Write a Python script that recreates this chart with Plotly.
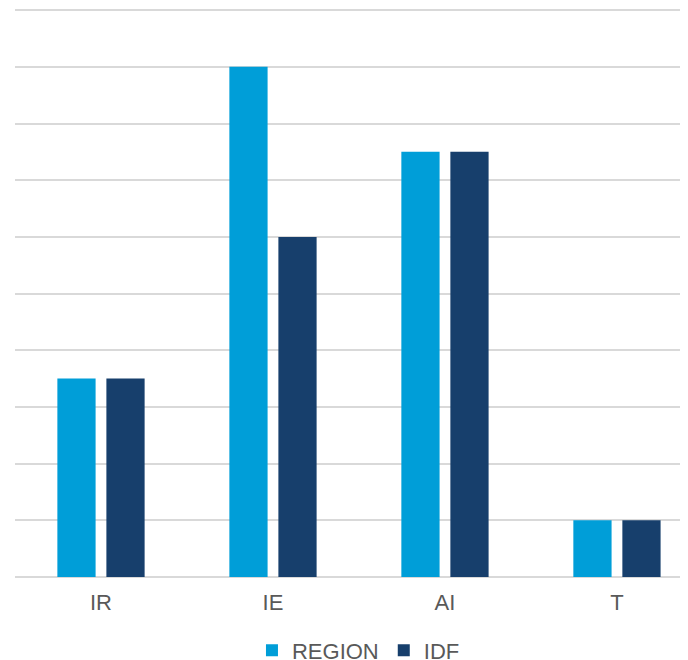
import plotly.graph_objects as go

categories = ["IR", "IE", "AI", "T"]
region_values = [3.5, 9, 7.5, 1]
idf_values = [3.5, 6, 7.5, 1]

fig = go.Figure()
fig.add_trace(go.Bar(name="REGION", x=categories, y=region_values, marker_color="#009ED8", marker_line_width=0))
fig.add_trace(go.Bar(name="IDF", x=categories, y=idf_values, marker_color="#173F6C", marker_line_width=0))

fig.update_layout(
    width=680, height=652,
    margin=dict(l=7, r=0, t=1, b=83, autoexpand=False),
    paper_bgcolor="white", plot_bgcolor="white",
    barmode="group", bargap=0.43, bargroupgap=0.22,
    font=dict(family="Liberation Sans, Arial, sans-serif", color="#595959", size=22),
    showlegend=True,
    legend=dict(orientation="h", xref="container", yref="container", x=0.5154, xanchor="center",
                y=0.0145, yanchor="middle", font=dict(size=22, color="#595959"),
                itemwidth=30, traceorder="normal"),
)
fig.update_xaxes(range=[-0.5, 3.413], showgrid=False, showline=False, ticks="", ticklabelstandoff=10,
                 tickfont=dict(size=22, color="#595959"))
fig.update_yaxes(range=[0, 10.02], dtick=1, showticklabels=False, gridcolor="#d9d9d9", gridwidth=2,
                 zeroline=True, zerolinecolor="#d9d9d9", zerolinewidth=2, showline=False)

fig.write_html("out.html")
